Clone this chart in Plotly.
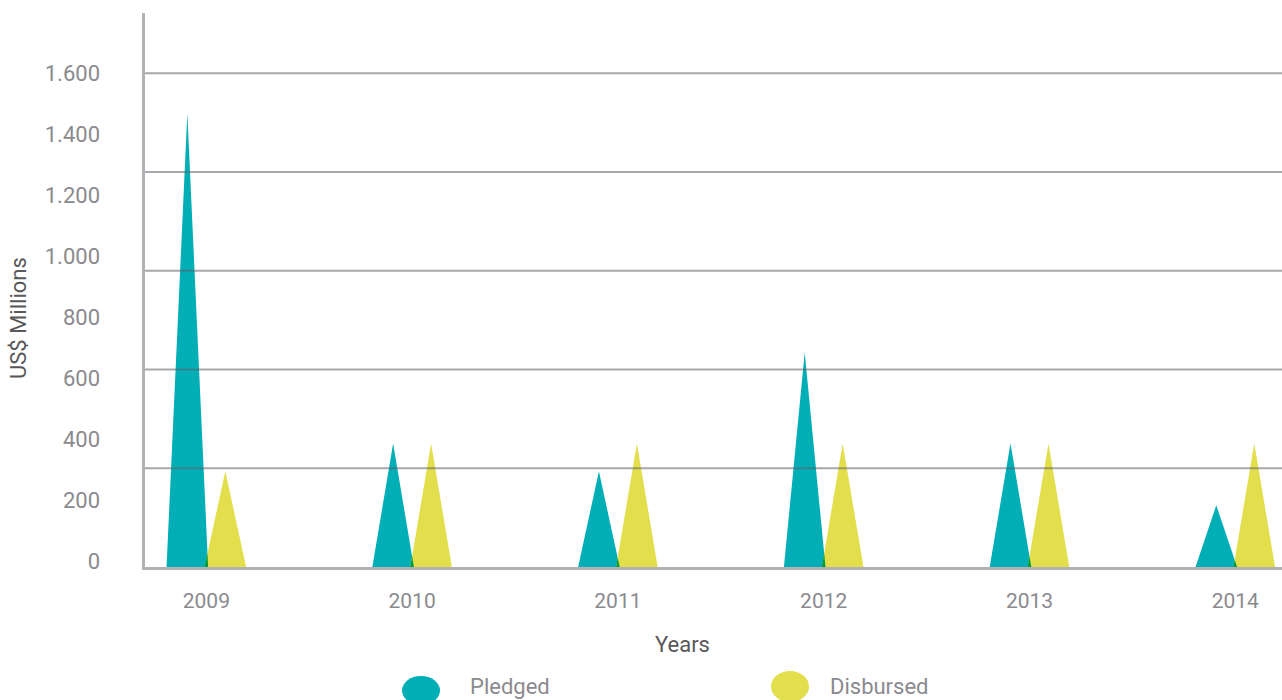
import plotly.graph_objects as go

# Funding by year, US$ millions
years = [2009, 2010, 2011, 2012, 2013, 2014]
pledged = [1470, 400, 310, 695, 400, 200]
disbursed = [310, 400, 400, 400, 400, 400]

# Left-axis labels (dot as thousands separator)
y_tick_values = [0, 200, 400, 600, 800, 1000, 1200, 1400, 1600]
y_tick_labels = ["0", "200", "400", "600", "800", "1.000", "1.200", "1.400", "1.600"]

TEAL = "#00AEB6"
YELLOW = "#E2DE4C"
OVERLAP = "#009A3E"
GRID = "rgba(95,95,105,0.55)"
AXIS = "#B2B2B6"
TICK_GREY = "#8A8A8E"
TITLE_GREY = "#58585B"
FONT = "Roboto"

W, H = 1282, 700
M_L, M_R, M_T, M_B = 145, 0, 13, 133
PW, PH = W - M_L - M_R, H - M_T - M_B

# spike geometry, in years
OFFSET = 0.0923
HALF = 0.101


def px2paper(px, py):
    return (px - M_L) / PW, (H - M_B - py) / PH


def spikes(values, offset):
    xs, ys = [], []
    for yr, v in zip(years, values):
        c = yr + offset
        xs += [c - HALF, c, c + HALF, c - HALF, None]
        ys += [0, v, 0, 0, None]
    return xs, ys


def overlaps():
    # where the right flank of a pledged spike crosses the left flank of a disbursed one
    xs, ys = [], []
    for yr, hp, hd in zip(years, pledged, disbursed):
        cp, cd = yr - OFFSET, yr + OFFSET
        yi = (cp - cd + 2 * HALF) / (HALF * (1 / hp + 1 / hd))
        if yi <= 0:
            continue
        xi = cp + HALF - HALF * yi / hp
        xs += [cd - HALF, xi, cp + HALF, cd - HALF, None]
        ys += [0, yi, 0, 0, None]
    return xs, ys


fig = go.Figure()
for vals, off, col, name in [(pledged, -OFFSET, TEAL, "Pledged"),
                             (disbursed, OFFSET, YELLOW, "Disbursed")]:
    xs, ys = spikes(vals, off)
    fig.add_trace(go.Scatter(x=xs, y=ys, mode="lines", fill="toself", fillcolor=col,
                             line=dict(width=0, color=col), name=name,
                             showlegend=False, hoverinfo="skip"))
ox, oy = overlaps()
fig.add_trace(go.Scatter(x=ox, y=oy, mode="lines", fill="toself", fillcolor=OVERLAP,
                         line=dict(width=0, color=OVERLAP),
                         showlegend=False, hoverinfo="skip"))

# invisible anchor so the label axis is laid out
fig.add_trace(go.Scatter(x=[years[0]] * len(y_tick_values), y=y_tick_values, yaxis="y2",
                         mode="markers", marker=dict(opacity=0), showlegend=False,
                         hoverinfo="skip"))

# horizontal rules drawn over the spikes
shapes = []
for g in range(320, 1601, 320):
    shapes.append(dict(type="line", xref="paper", x0=0, x1=1, yref="y", y0=g, y1=g,
                       line=dict(color=GRID, width=2), layer="above"))

# legend blobs
for (x0, y0, x1, y1), col in [((402, 676, 440, 705), TEAL), ((771, 671, 809, 702), YELLOW)]:
    a0, b0 = px2paper(x0, y1)
    a1, b1 = px2paper(x1, y0)
    shapes.append(dict(type="circle", xref="paper", yref="paper", x0=a0, y0=b0, x1=a1, y1=b1,
                       fillcolor=col, line=dict(width=0), layer="above"))

annotations = []
for text, (px, py), anchor, color, angle in [
    ("Pledged", (468, 686), "left", TICK_GREY, 0),
    ("Disbursed", (828, 686), "left", TICK_GREY, 0),
    ("Years", (682, 644), "center", TITLE_GREY, 0),
    ("US$ Millions", (18, 318), "center", TITLE_GREY, -90),
]:
    ax, ay = px2paper(px, py)
    annotations.append(dict(text=text, x=ax, y=ay, xref="paper", yref="paper",
                            xanchor=anchor, yanchor="middle", showarrow=False,
                            textangle=angle, font=dict(family=FONT, size=22, color=color)))

fig.update_layout(
    width=W, height=H,
    margin=dict(l=M_L, r=M_R, t=M_T, b=M_B, pad=0),
    paper_bgcolor="white", plot_bgcolor="white",
    font=dict(family=FONT, size=22, color=TICK_GREY),
    showlegend=False,
    shapes=shapes,
    annotations=annotations,
    xaxis=dict(range=[2008.702, 2014.227], tickvals=years, ticktext=[str(y) for y in years],
               showgrid=False, zeroline=False, showline=True, linecolor=AXIS, linewidth=3,
               ticks="", ticklabelstandoff=13, tickfont=dict(size=21, color=TICK_GREY)),
    yaxis=dict(range=[0, 1795], showgrid=False, zeroline=False, showline=True,
               linecolor=AXIS, linewidth=3, showticklabels=False, ticks=""),
    yaxis2=dict(range=[-17.4, 1799], overlaying="y", side="left", anchor="x",
                tickvals=y_tick_values, ticktext=y_tick_labels,
                showgrid=False, zeroline=False, showline=False,
                ticks="", ticklabelstandoff=44, tickfont=dict(size=22, color=TICK_GREY)),
)

fig.write_html("out.html")
